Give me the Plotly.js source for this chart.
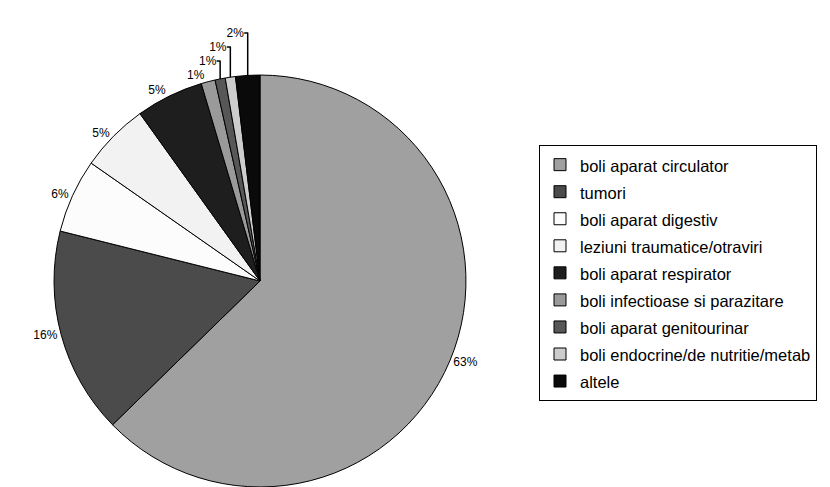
<!DOCTYPE html>
<html>
<head>
<meta charset="utf-8">
<script src="https://cdn.plot.ly/plotly-3.0.1.min.js"></script>
<style>html,body{margin:0;padding:0;background:#fff;}#chart{width:830px;height:487px;}</style>
</head>
<body>
<div id="chart"></div>
<script>
const categories = [
  'boli aparat circulator',
  'tumori',
  'boli aparat digestiv',
  'leziuni traumatice/otraviri',
  'boli aparat respirator',
  'boli infectioase si parazitare',
  'boli aparat genitourinar',
  'boli endocrine/de nutritie/metab',
  'altele'
];
const shares = [62.7, 16.2, 5.8, 5.4, 5.3, 1.1, 0.8, 0.8, 1.9];
const sliceColors = ['#a0a0a0', '#4b4b4b', '#fcfcfc', '#f2f2f2', '#1e1e1e', '#9a9a9a', '#575757', '#cdcdcd', '#0a0a0a'];

const trace = {
  type: 'pie',
  labels: categories.map(c => '<span style="font-size:16.5px">' + c + '</span>'),
  values: shares,
  sort: false,
  direction: 'clockwise',
  rotation: 0,
  marker: { colors: sliceColors, line: { color: '#000', width: 1 } },
  texttemplate: '%{percent:.0%}',
  textposition: 'outside',
  textfont: { family: 'Liberation Sans, Arial, sans-serif', size: 12, color: '#000' },
  outsidetextfont: { family: 'Liberation Sans, Arial, sans-serif', size: 12, color: '#000' },
  hoverinfo: 'label+percent',
  domain: { x: [0.0651, 0.5614], y: [0, 0.846] },
  automargin: false
};

const layout = {
  width: 830,
  height: 487,
  margin: { l: 0, r: 0, t: 0, b: 0 },
  paper_bgcolor: '#fff',
  plot_bgcolor: '#fff',
  font: { family: 'Liberation Sans, Arial, sans-serif', color: '#000' },
  showlegend: true,
  legend: {
    x: 0.6494, y: 0.702, xanchor: 'left', yanchor: 'top',
    bordercolor: '#000', borderwidth: 1,
    font: { size: 18.5, color: '#000', family: 'Liberation Sans, Arial, sans-serif' },
    itemclick: false, itemdoubleclick: false
  }
};

Plotly.newPlot('chart', [trace], layout, { displayModeBar: false, staticPlot: true });
</script>
</body>
</html>
